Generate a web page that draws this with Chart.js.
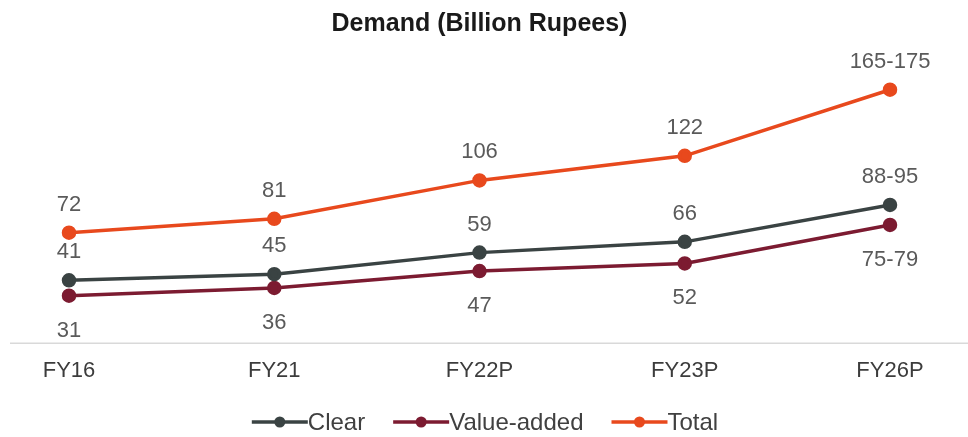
<!DOCTYPE html>
<html>
<head>
<meta charset="utf-8">
<style>
  html, body { margin: 0; padding: 0; background: #ffffff; }
  #wrap { width: 968px; height: 437px; position: relative; }
</style>
<script src="https://cdn.jsdelivr.net/npm/chart.js@4/dist/chart.umd.min.js"></script>
</head>
<body>
<div id="wrap"><canvas id="c" width="968" height="437"></canvas></div>
<script>
const titleText = 'Demand (Billion Rupees)';
const categories = ['FY16', 'FY21', 'FY22P', 'FY23P', 'FY26P'];
const seriesNames = ['Clear', 'Value-added', 'Total'];
const clearValues = [41, 45, 59, 66, 90];
const valueAddedValues = [31, 36, 47, 52, 77];
const totalValues = [72, 81, 106, 122, 165];
const clearLabels = ['41', '45', '59', '66', '88-95'];
const valueAddedLabels = ['31', '36', '47', '52', '75-79'];
const totalLabels = ['72', '81', '106', '122', '165-175'];

const FONT = "'Liberation Sans', Arial, sans-serif";
const colors = { clear: '#3a4343', va: '#7c1b31', total: '#e8491d' };

const baselinePlugin = {
  id: 'baseline',
  beforeDatasetsDraw(chart) {
    const { ctx } = chart;
    const y = chart.scales.y.getPixelForValue(0);
    ctx.save();
    ctx.strokeStyle = '#d9d9d9';
    ctx.lineWidth = 1.5;
    ctx.beginPath();
    ctx.moveTo(10, y);
    ctx.lineTo(chart.width, y);
    ctx.stroke();
    ctx.restore();
  }
};

const valueLabelPlugin = {
  id: 'valueLabels',
  afterDatasetsDraw(chart) {
    const { ctx } = chart;
    ctx.save();
    ctx.font = '22px ' + FONT;
    ctx.fillStyle = '#5a5a5a';
    ctx.textAlign = 'center';
    ctx.textBaseline = 'middle';
    chart.data.datasets.forEach((ds, i) => {
      const meta = chart.getDatasetMeta(i);
      meta.data.forEach((pt, j) => {
        const off = ds.labelPos === 'below' ? 35 : -28;
        ctx.fillText(ds.valueLabels[j], pt.x, pt.y + off);
      });
    });
    ctx.restore();
  }
};

const legendPlugin = {
  id: 'customLegend',
  afterDraw(chart) {
    const { ctx } = chart;
    const y = 422;
    const markerW = 56;
    const gap = 28;
    ctx.save();
    ctx.font = '24px ' + FONT;
    ctx.textBaseline = 'middle';
    ctx.textAlign = 'left';
    const items = chart.data.datasets.map(ds => ({ text: ds.label, color: ds.borderColor, w: ctx.measureText(ds.label).width }));
    const total = items.reduce((s, it) => s + markerW + it.w, 0) + gap * (items.length - 1);
    let x = 485 - total / 2;
    items.forEach(it => {
      ctx.strokeStyle = it.color;
      ctx.lineWidth = 3.5;
      ctx.beginPath();
      ctx.moveTo(x, y);
      ctx.lineTo(x + markerW, y);
      ctx.stroke();
      ctx.fillStyle = it.color;
      ctx.beginPath();
      ctx.arc(x + markerW / 2, y, 5.5, 0, Math.PI * 2);
      ctx.fill();
      ctx.fillStyle = '#404040';
      ctx.fillText(it.text, x + markerW, y + 1);
      x += markerW + it.w + gap;
    });
    ctx.restore();
  }
};

function ds(label, data, color, valueLabels, labelPos) {
  return {
    label, data, valueLabels, labelPos,
    borderColor: color,
    backgroundColor: color,
    pointBackgroundColor: color,
    pointBorderColor: color,
    borderWidth: 3.5,
    pointRadius: 5.5,
    pointHoverRadius: 5.5,
    tension: 0,
    fill: false
  };
}

new Chart(document.getElementById('c'), {
  type: 'line',
  data: {
    labels: categories,
    datasets: [
      ds(seriesNames[0], clearValues, colors.clear, clearLabels, 'above'),
      ds(seriesNames[1], valueAddedValues, colors.va, valueAddedLabels, 'below'),
      ds(seriesNames[2], totalValues, colors.total, totalLabels, 'above')
    ]
  },
  options: {
    responsive: false,
    animation: false,
    devicePixelRatio: 1,
    layout: { padding: { left: 69, right: 78, top: 0, bottom: 38.3 } },
    plugins: {
      legend: { display: false },
      tooltip: { enabled: false },
      title: {
        display: true,
        text: titleText,
        color: '#1a1a1a',
        font: { family: FONT, size: 25, weight: 'bold' },
        padding: { top: 9, bottom: 0 }
      }
    },
    scales: {
      x: {
        offset: false,
        grid: { display: false, drawTicks: false },
        border: { display: false },
        ticks: { color: '#3c3c3c', font: { family: FONT, size: 22 }, padding: 14.5, maxRotation: 0, autoSkip: false }
      },
      y: {
        display: false,
        min: 0,
        max: 198
      }
    }
  },
  plugins: [baselinePlugin, valueLabelPlugin, legendPlugin]
});
</script>
</body>
</html>
